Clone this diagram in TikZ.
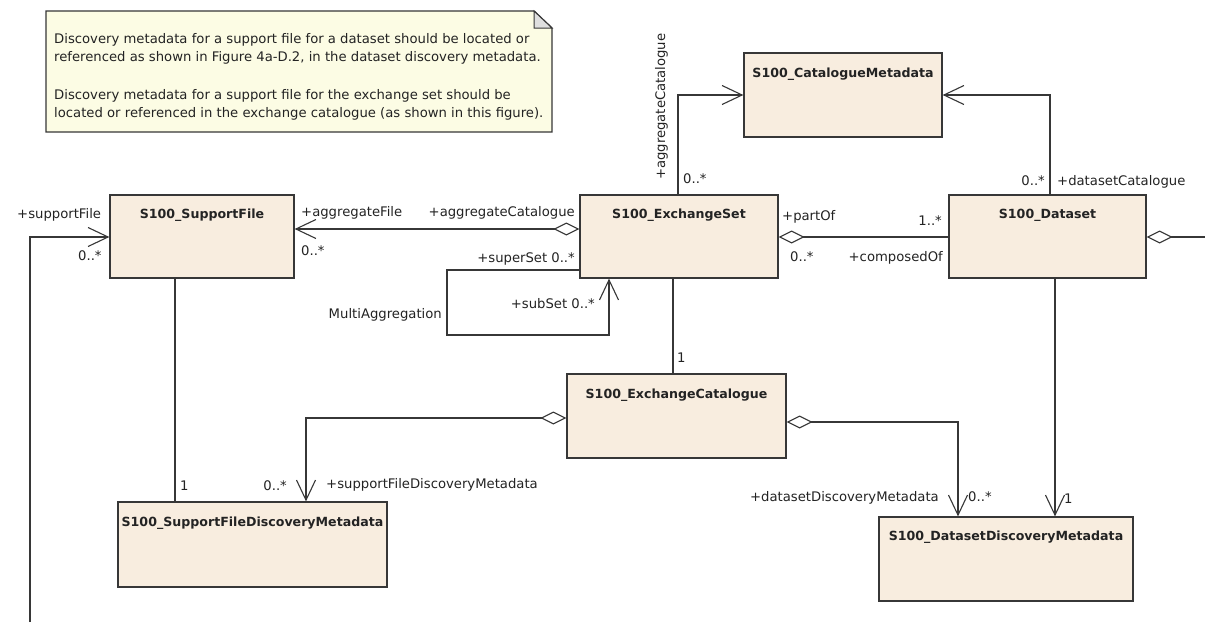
\documentclass[tikz,border=0pt]{standalone}
\usepackage{fontspec}
\setmainfont{DejaVu Sans}
\usetikzlibrary{arrows.meta}
\definecolor{classfill}{RGB}{248,237,223}
\definecolor{notefill}{RGB}{252,252,228}
\definecolor{edgegray}{RGB}{55,55,55}
\definecolor{ink}{RGB}{35,35,35}
\tikzset{
  cls/.style={draw=edgegray, line width=1.3pt, fill=classfill, inner sep=0pt},
  ttl/.style={font=\fontsize{12.6}{15}\selectfont\bfseries, text=ink, inner sep=0pt},
  lbl/.style={font=\fontsize{13.2}{15}\selectfont, text=ink, inner sep=0pt, text height=9pt, text depth=3pt},
  notetxt/.style={font=\fontsize{13.2}{15}\selectfont, text=ink, inner sep=0pt, text height=9pt, text depth=3pt, anchor=west},
  conn/.style={draw=edgegray, line width=1.1pt},
  nav/.style={conn, -{Straight Barb[length=20pt,width=19pt]}},
  agg/.style={conn, {Diamond[length=26pt,width=13pt,fill=white]}-},
  aggnav/.style={conn, {Diamond[length=26pt,width=13pt,fill=white]}-{Straight Barb[length=20pt,width=19pt]}}
}
\begin{document}
\begin{tikzpicture}[x=1pt,y=-1pt]
\fill[white] (0,0) rectangle (1205,622);
\useasboundingbox (0,0) rectangle (1205,622);

% explanatory note with folded corner
\filldraw[fill=notefill, draw=edgegray, line width=1.4pt]
  (46,11) -- (534,11) -- (552,28) -- (552,132) -- (46,132) -- cycle;
\filldraw[fill=gray!25, draw=edgegray, line width=1pt] (534,11) -- (534,28) -- (552,28) -- cycle;
\node[notetxt] (n1) at (54,40) {Discovery metadata for a support file for a dataset should be located or};
\node[notetxt] (n2) at (54,58) {referenced as shown in Figure 4a-D.2, in the dataset discovery metadata.};
\node[notetxt] (n3) at (54,96) {Discovery metadata for a support file for the exchange set should be};
\node[notetxt] (n4) at (54,114) {located or referenced in the exchange catalogue (as shown in this figure).};

% classes
\node[cls, minimum width=184pt, minimum height=83pt] (sf) at (202,236.5) {};
\node[cls, minimum width=198pt, minimum height=83pt] (es) at (679,236.5) {};
\node[cls, minimum width=197pt, minimum height=83pt] (ds) at (1047.5,236.5) {};
\node[cls, minimum width=198pt, minimum height=84pt] (cm) at (843,95) {};
\node[cls, minimum width=219pt, minimum height=84pt] (ec) at (676.5,416) {};
\node[cls, minimum width=269pt, minimum height=85pt] (sfdm) at (252.5,544.5) {};
\node[cls, minimum width=254pt, minimum height=84pt] (ddm) at (1006,559) {};

\node[ttl] (sf-t) at ([yshift=-21pt]sf.north) {S100\_SupportFile};
\node[ttl] (es-t) at ([yshift=-21pt]es.north) {S100\_ExchangeSet};
\node[ttl] (ds-t) at ([yshift=-21pt]ds.north) {S100\_Dataset};
\node[ttl] (cm-t) at ([yshift=-22pt]cm.north) {S100\_CatalogueMetadata};
\node[ttl] (ec-t) at ([yshift=-22pt]ec.north) {S100\_ExchangeCatalogue};
\node[ttl] (sfdm-t) at ([yshift=-22pt]sfdm.north) {S100\_SupportFileDiscoveryMetadata};
\node[ttl] (ddm-t) at ([yshift=-21pt]ddm.north) {S100\_DatasetDiscoveryMetadata};

% associations
\draw[nav] (es.north -| 678,0) |- (cm.west);
\draw[nav] (ds.north -| 1050,0) |- (cm.east);
\draw[aggnav] (es.west |- 0,229) -- (sf.east |- 0,229);
\draw[nav] (es.west |- 0,270) -- (447,270) |- (609,335) -- (es.south -| 609,0);
\draw[conn] (es.south -| 673,0) -- (ec.north -| 673,0);
\draw[agg] (es.east |- 0,237) -- (ds.west |- 0,237);
\coordinate (rightend) at (1205,237);
\draw[agg] (ds.east |- 0,237) -- (rightend);
\draw[nav] (ds.south -| 1055,0) -- (ddm.north -| 1055,0);
\draw[aggnav] (ec.east |- 0,422) -| (ddm.north -| 958,0);
\draw[aggnav] (ec.west |- 0,418) -| (sfdm.north -| 306,0);
\draw[conn] (sf.south -| 175,0) -- (sfdm.north -| 175,0);
\coordinate (leftend) at (30,622);
\draw[nav] (leftend) |- (sf.west |- 0,237);

% role names and multiplicities
\node[lbl, anchor=west] (l1) at (17,215) {+supportFile};
\node[lbl, anchor=west] (l2) at (78,257) {0..*};
\node[lbl, anchor=west] (l3) at (301,213) {+aggregateFile};
\node[lbl, anchor=west] (l4) at (301,252) {0..*};
\node[lbl, anchor=east] (l5) at (575,213) {+aggregateCatalogue};
\node[lbl, anchor=east] (l6) at (575,259) {+superSet 0..*};
\node[lbl, anchor=east] (l7) at (595,305) {+subSet 0..*};
\node[lbl, anchor=east] (l8) at (442,315) {MultiAggregation};
\node[lbl, anchor=west] (l9) at (677,359) {1};
\node[lbl, anchor=west, rotate=90] (l10) at (662,180) {+aggregateCatalogue};
\node[lbl, anchor=west] (l11) at (683,180) {0..*};
\node[lbl, anchor=west] (l12) at (782,217) {+partOf};
\node[lbl, anchor=west] (l13) at (790,258) {0..*};
\node[lbl, anchor=east] (l14) at (942,222) {1..*};
\node[lbl, anchor=east] (l15) at (943,258) {+composedOf};
\node[lbl, anchor=east] (l16) at (1045,182) {0..*};
\node[lbl, anchor=west] (l17) at (1057,182) {+datasetCatalogue};
\node[lbl, anchor=west] (l18) at (1064,500) {1};
\node[lbl, anchor=east] (l19) at (939,498) {+datasetDiscoveryMetadata};
\node[lbl, anchor=west] (l20) at (968,498) {0..*};
\node[lbl, anchor=east] (l21) at (287,487) {0..*};
\node[lbl, anchor=west] (l22) at (326,485) {+supportFileDiscoveryMetadata};
\node[lbl, anchor=west] (l23) at (180,487) {1};
\end{tikzpicture}
\end{document}
